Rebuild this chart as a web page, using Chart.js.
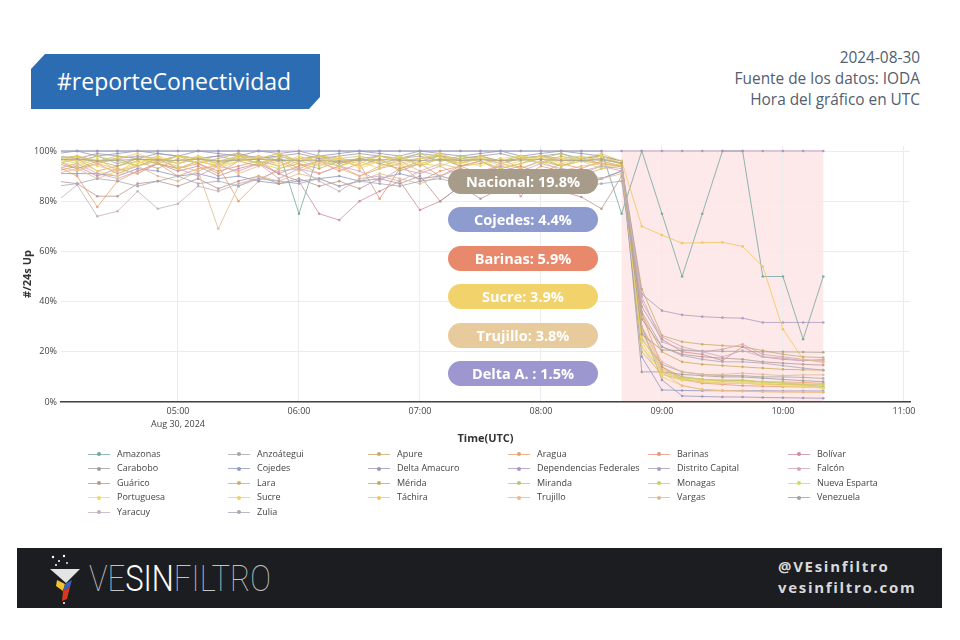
<!DOCTYPE html>
<html><head><meta charset="utf-8">
<script src="https://cdn.jsdelivr.net/npm/chart.js@4.4.1/dist/chart.umd.min.js"></script>
<style>
html,body{margin:0;padding:0;background:#fff;width:960px;height:640px;overflow:hidden;font-family:"Open Sans",sans-serif;}
#title{position:absolute;left:31px;top:54px;width:289px;height:55px;background:#2b6cb3;
  clip-path:polygon(14px 0,100% 0,100% 43px,278px 100%,0 100%,0 15px);}
#title span{position:absolute;left:26px;top:0;line-height:54px;color:#fff;font-size:23px;white-space:nowrap;}
#meta{position:absolute;right:40px;top:47px;text-align:right;font-size:15.4px;line-height:21px;color:#51606f;}
#wrap{position:absolute;left:0;top:130px;width:960px;height:320px;}
.pill{position:absolute;left:448px;width:150px;height:25px;border-radius:13px;line-height:25px;text-align:center;
  color:#fff;font-weight:700;font-size:14.5px;white-space:nowrap;}
#legend .item{position:absolute;height:14px;line-height:14px;font-size:9px;color:#444;white-space:nowrap;}
#legend .sw{position:absolute;left:0;top:7px;width:22px;height:1px;}
#legend .dot{position:absolute;left:9px;top:-1.5px;width:4px;height:4px;border-radius:2px;}
#legend .tx{position:absolute;left:29px;top:0;}
#banner{position:absolute;left:17px;top:548px;width:925px;height:60px;background:#1b1d21;}
#brand{position:absolute;left:89px;top:561px;font-family:Roboto,"Open Sans",sans-serif;font-weight:100;font-size:36px;line-height:36px;
  color:#c4c4c4;letter-spacing:0;white-space:nowrap;transform-origin:0 0;}
#brand b{font-weight:300;color:#fff;}
#social{position:absolute;left:778px;top:556px;text-align:left;font-weight:700;font-size:15px;line-height:21px;color:#d9d9d9;letter-spacing:1.7px;}
</style></head>
<body>
<div id="title"><span>#reporteConectividad</span></div>
<div id="meta">2024-08-30<br>Fuente de los datos: IODA<br>Hora del gráfico en UTC</div>
<div id="wrap"><canvas id="c" width="960" height="320"></canvas></div>
<div id="pills"></div>
<div id="legend"></div>
<div id="banner"></div>
<svg style="position:absolute;left:40px;top:550px" width="45" height="56" viewBox="40 550 45 56">
  <circle cx="53" cy="557" r="1.2" fill="#fff"/><circle cx="59" cy="561" r="1" fill="#fff"/>
  <circle cx="64" cy="556" r="1.2" fill="#fff"/><circle cx="56" cy="565" r="1" fill="#fff"/>
  <circle cx="67" cy="563" r="0.9" fill="#fff"/>
  <polygon points="50,569 80,569 66,583" fill="#e4e4e4"/>
  <polygon points="57,580 65,584 63,591 56,586" fill="#f2c230"/>
  <polygon points="65,584 72,580 70,587 63,591" fill="#3a5fb8"/>
  <polygon points="63,591 70,587 67,599 62,601" fill="#d8381e"/>
  <circle cx="64" cy="603" r="1" fill="#fff"/>
</svg>
<div id="brand">VE<b>SIN</b>FILTRO</div>
<div id="social">@VEsinfiltro<br>vesinfiltro.com</div>
<script>
const timeLabels = ["04:00","04:10","04:20","04:30","04:40","04:50","05:00","05:10","05:20","05:30","05:40","05:50",
  "06:00","06:10","06:20","06:30","06:40","06:50","07:00","07:10","07:20","07:30","07:40","07:50",
  "08:00","08:10","08:20","08:30","08:40","08:50","09:00","09:10","09:20","09:30","09:40","09:50",
  "10:00","10:10","10:20"];

const amazonas = [100,100,100,100,100,100,100,100,100,100,100,100,75,100,100,100,100,100,100,100,100,100,100,100,100,100,100,100,75, 100,75,50,75,100,100,50,50,25,50];
const anzoategui = [97,96,98,95,97,96,98,97,95,97,98,96,97,98,96,97,95,97,98,96,97,98,96,97,98,97,96,97,95, 25,15,12,11,10.5,10.5,10,10,9.8,9.4];
const apure = [95,97,92,94,96,93,97,95,91,96,94,97,95,93,96,94,97,92,95,97,94,96,93,95,97,94,96,95,94, 45,26.5,24,23,22.5,22,20.5,19,18,17.7];
const aragua = [94,90,77.7,88,92,95,90,93,94,80,88,93,95,91,94,90,93,95,88,92,94,91,93,89,94,92,90,93,94, 30,14,10,9,8.5,8.5,8,8,7.8,7.4];
const barinas = [96,93,95,91,94,97,93,95,92,94,96,91,94,96,92,95,81,93,95,90,94,96,92,94,91,95,93,96,94, 35,14,9,7.5,7,6.5,6.3,6.1,6,5.9];
const bolivar = [92,94,90,93,91,95,92,94,90,93,95,91,88,75,72.5,80,84,88,76.5,80,86,89,84,87,90,88,86,89,92, 38,25,20,19,16.5,22,18,17,16.5,16.7];
const carabobo = [98,97,99,98,97,99,98,97,98,99,97,98,99,97,98,99,98,97,99,98,97,98,99,97,98,99,97,98,96, 12,12,11,10.5,10,10,9.5,9,8.5,8.1];
const cojedes = [91,91,91,90,93,92,90,91,89,90,88,87,88,89,90,88,89,91,89,90,88,87,89,88,90,89,88,89,92, 18,4.8,4.6,4.5,4.5,4.5,4.5,4.4,4.4,4.4];
const deltaAmacuro = [99,100,98,99,100,99,98,100,99,98,100,99,100,98,99,100,99,98,100,99,98,99,100,98,99,100,99,98,96, 30,8.8,2.4,2.2,2,2,1.8,1.7,1.6,1.5];
const dependenciasFederales = [100,100,100,100,100,100,100,100,100,100,100,100,100,100,100,100,100,100,100,100,100,100,100,100,100,100,100,100,100, 100,100,100,100,100,100,100,100,100,100];
const distritoCapital = [97,98,96,97,98,97,95,97,98,96,97,98,96,97,95,97,98,96,97,98,96,97,95,97,98,96,97,98,95, 43,36.4,34.7,34,33.6,33.4,31.7,31.7,31.7,31.7];
const falcon = [93,95,91,89,92,95,93,90,94,92,95,89,93,91,94,92,88,93,91,94,90,92,94,82,90,93,91,94,92, 40,26,22,20,21,23,19,18,17,15.8];
const guarico = [88,87,82,82,87,88,86,89,85,88,90,87,89,86,88,85,89,87,90,80,86,81,85,88,86,84,81.7,77,90, 33,22,19,18,17.5,17,16,15.5,15,14.7];
const lara = [96,98,95,97,94,96,98,95,97,99,96,94,97,98,95,97,96,98,94,97,95,98,96,97,95,98,96,97,95, 20,11,9,8,7.5,7.5,7,7,6.8,6.8];
const merida = [95,93,96,94,97,95,93,96,94,98,95,97,93,96,94,97,95,93,96,98,94,95,97,93,96,94,97,95,94, 35,20,16,15,14.5,14,13.5,13,12.8,12.7];
const miranda = [98,97,96,98,97,95,98,97,96,98,97,99,96,98,97,96,98,97,99,96,98,97,96,98,97,99,96,98,95, 28,13,10,9,8.5,8.5,8,7.5,7,6.1];
const monagas = [97,95,98,96,94,97,95,98,96,97,95,98,96,94,97,98,96,95,97,98,95,97,96,98,95,97,98,96,94, 22,12,9.5,9,8.8,8.8,8,7.6,7.2,7];
const nuevaEsparta = [96,94,97,92,95,98,93,96,94,97,95,93,96,98,94,96,93,97,95,94,97,96,93,95,98,94,96,93,95, 26,12,9,8.5,8.2,8,7.5,7,6.5,5.4];
const portuguesa = [98,96,92,90,95,97,96,98,94,96,97,95,98,96,97,94,96,98,95,97,96,94,97,98,95,97,96,98,95, 24,11,8.5,8,7.5,7.5,7,6.5,6,5.6];
const sucre = [95,97,94,92,96,98,95,97,93,96,98,94,97,95,98,93,96,94,97,99,95,97,94,96,98,95,97,94,95, 22,10,6.5,5,4.5,4.3,4.1,4,4,3.9];
const tachira = [97,98,96,97,99,96,98,97,95,98,97,99,96,98,97,95,98,96,97,99,96,98,95,97,98,96,97,99,96, 70,66.5,63.3,63.5,63.6,62,54,29,17,16];
const trujillo = [94,92,95,93,91,96,94,92,95,91,94,96,92,95,93,90,94,96,92,95,93,91,95,93,96,92,94,95,94, 28,12,6.5,5,4.6,4.3,4.1,4,3.9,3.8];
const vargas = [91,93,89,92,94,90,88,92,69,86,90,88,91,89,86,88,91,89,87,90,88,92,89,91,88,90,92,89,91, 30,16,12,11,11,11.5,11,10.5,10.8,10.8];
const venezuela = [96.5,96.8,96,96.3,96.7,96.5,96.2,96.8,95.9,96.4,96.7,96.3,96.1,96.2,95.8,96.3,96.5,96.4,96.1,96.6,96.3,96.5,96.2,96.4,96.6,96.3,96.2,96.5,95.2, 27,20.7,20.5,20.3,20.2,20.2,20,20,19.9,19.8];
const yaracuy = [80,86.5,74,76,84,77,79,86,84,87,89,92,93,88,84,89,90,88,92,90,93,91,94,92,95,93,92,94,93, 42,24,21,20,18,20.5,18,17.5,16.5,17];
const zulia = [86,87,89,88,86,88,90,87,88,86,89,88,87,89,86,88,87,86,88,89,87,88,86,89,87,88,86,87,88, 36,22,18.5,17,16,16,15.5,14.5,13.5,12.7];

const stateNames = ["Amazonas","Anzoátegui","Apure","Aragua","Barinas","Bolívar","Carabobo","Cojedes","Delta Amacuro",
  "Dependencias Federales","Distrito Capital","Falcón","Guárico","Lara","Mérida","Miranda","Monagas","Nueva Esparta",
  "Portuguesa","Sucre","Táchira","Trujillo","Vargas","Venezuela","Yaracuy","Zulia"];
const stateSeries = [amazonas,anzoategui,apure,aragua,barinas,bolivar,carabobo,cojedes,deltaAmacuro,
  dependenciasFederales,distritoCapital,falcon,guarico,lara,merida,miranda,monagas,nuevaEsparta,
  portuguesa,sucre,tachira,trujillo,vargas,venezuela,yaracuy,zulia];
const stateColors = ["#74a89f","#a8a8a8","#c8ab66","#eaa06c","#e7957a","#cc8e9b","#a39c9c","#8f99c6","#9896b6",
  "#ac93c4","#ab9cbf","#d6a3b8","#bc9690","#cdb266","#ccab5a","#bec66a","#cbcf66","#dad65a",
  "#f2d866","#f3cf68","#f1c65c","#ebb889","#deba92","#a8a090","#c2b0bd","#a9a9b7"];

const xTickValues = ["05:00","06:00","07:00","08:00","09:00","10:00","11:00"];
const xTickSub = {"05:00":"Aug 30, 2024"};
const yTickValues = [0,20,40,60,80,100];
const xRange = ["04:02","11:03"];
const outageWindow = ["08:40","10:20"];

const pillLabels = ["Nacional: 19.8%","Cojedes: 4.4%","Barinas: 5.9%","Sucre: 3.9%","Trujillo: 3.8%","Delta A. : 1.5%"];
const pillColors = ["#a79b8a","#8d9bcf","#e8896b","#f2d26b","#e8cb9c","#9c98cf"];

const toMin = s => { const [h,m] = s.split(":").map(Number); return h*60+m; };
const fmt = v => { const h = Math.floor(v/60), m = v%60; return String(h).padStart(2,"0")+":"+String(m).padStart(2,"0"); };
const hexA = (hex,a) => { const n=parseInt(hex.slice(1),16); return `rgba(${n>>16},${(n>>8)&255},${n&255},${a})`; };

Chart.defaults.font.family = '"Open Sans", sans-serif';
Chart.defaults.color = '#444';

const bandPlugin = {
  id: 'band',
  beforeDraw(chart) {
    const {ctx, scales:{x,y}} = chart;
    const x0 = x.getPixelForValue(toMin(outageWindow[0])), x1 = x.getPixelForValue(toMin(outageWindow[1]));
    const y0 = y.getPixelForValue(100.5), y1 = y.getPixelForValue(0);
    ctx.save(); ctx.fillStyle = 'rgba(250,200,205,0.42)'; ctx.fillRect(x0, y0, x1-x0, y1-y0); ctx.restore();
  }
};

const datasets = stateNames.map((name,i) => ({
  label: name,
  order: -i,
  data: timeLabels.map((t,j) => ({x: toMin(t), y: stateSeries[i][j]})),
  borderColor: hexA(stateColors[i], 0.8),
  backgroundColor: stateColors[i],
  pointBackgroundColor: hexA(stateColors[i], 0.9),
  borderWidth: 1,
  pointRadius: 1.3,
  pointBorderWidth: 0,
  tension: 0
}));

const chart = new Chart(document.getElementById('c'), {
  type: 'line',
  data: { datasets },
  plugins: [bandPlugin],
  options: {
    responsive: false, animation: false,
    layout: { padding: { left: 0, right: 50, top: 16, bottom: 0 } },
    plugins: { legend: { display: false }, tooltip: { enabled: false } },
    scales: {
      x: {
        type: 'linear', min: toMin(xRange[0]), max: toMin(xRange[1]),
        afterFit(s) { s.height = 48; },
        afterBuildTicks(s) { s.ticks = xTickValues.map(t => ({value: toMin(t)})); },
        grid: { color: '#ececec', drawTicks: false },
        border: { display: true, color: '#444', width: 1.5 },
        ticks: { padding: 3, font: { size: 9, lineHeight: 1.45 }, color: '#444', maxRotation: 0,
          callback: v => { const l = fmt(v); return xTickSub[l] ? [l, xTickSub[l]] : l; } },
        title: { display: true, text: 'Time(UTC)', font: { size: 11, weight: 'bold' }, color: '#333', padding: { top: 0, bottom: 5 } }
      },
      y: {
        min: 0, max: 102,
        afterFit(s) { s.width = 61; },
        afterBuildTicks(s) { s.ticks = yTickValues.map(v => ({value: v})); },
        grid: { color: '#ececec', drawTicks: false },
        border: { display: false },
        ticks: { padding: 4, font: { size: 9 }, color: '#444', callback: v => v + '%' },
        title: { display: true, text: '#/24s Up', font: { size: 11, weight: 'bold' }, color: '#333', padding: { top: 21, bottom: 0 } }
      }
    }
  }
});

// annotation pills
const pillsEl = document.getElementById('pills');
const pillCenters = [181, 219.5, 258, 296.5, 335, 373.5];
pillLabels.forEach((t,i) => {
  const d = document.createElement('div');
  d.className = 'pill'; d.textContent = t; d.style.background = pillColors[i];
  d.style.top = (pillCenters[i] - 12.5) + 'px';
  pillsEl.appendChild(d);
});

// legend built from chart datasets
const legEl = document.getElementById('legend');
chart.data.datasets.forEach((ds,i) => {
  const col = i % 6, row = Math.floor(i / 6);
  const it = document.createElement('div');
  it.className = 'item';
  it.style.left = (88 + col*140) + 'px';
  it.style.top = (446.5 + row*14.6) + 'px';
  it.innerHTML = `<span class="sw" style="background:${ds.borderColor}"><span class="dot" style="background:${ds.backgroundColor}"></span></span><span class="tx">${ds.label}</span>`;
  legEl.appendChild(it);
});

// fit brand text width
const br = document.getElementById('brand');
const w = br.getBoundingClientRect().width;
br.style.transform = `scaleX(${182 / w})`;
</script>
</body></html>
